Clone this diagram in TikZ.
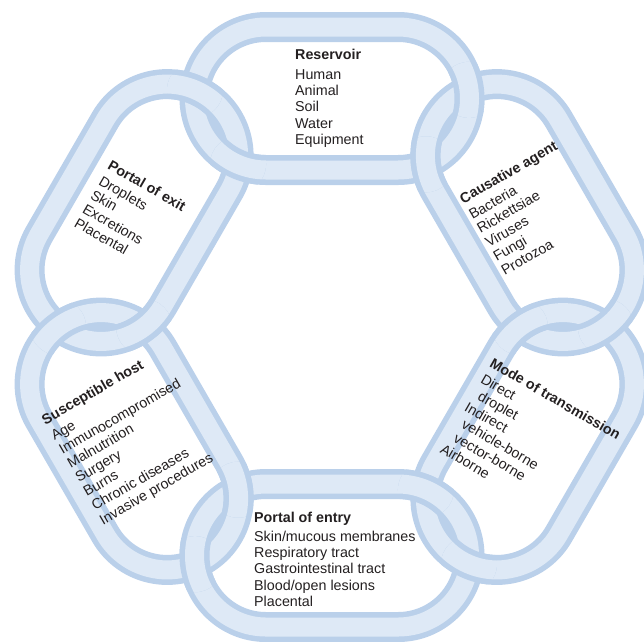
\documentclass[tikz,border=0pt]{standalone}
\usepackage{fontspec}
\setmainfont{Liberation Sans}
\usetikzlibrary{positioning}

\definecolor{linkdark}{RGB}{186,208,234}
\definecolor{linklight}{RGB}{222,233,246}
\definecolor{inktext}{RGB}{35,31,32}

\tikzset{
  chain link/.pic={
    \foreach \w/\c in {30/linkdark,19/linklight}
      \draw[line width=\w pt, draw=\c] (-66,-71.5) -- (66,-71.5)
        arc[start angle=-90,end angle=90,radius=71.5] -- (-66,71.5)
        arc[start angle=90,end angle=270,radius=71.5] -- cycle;
  }
}

\begin{document}
\begin{tikzpicture}[x=1pt,y=-1pt,
    chaintext/.style={inner sep=0pt,anchor=north west,align=left,text=inktext,
      font=\fontsize{14.3}{16.2}\selectfont}]

  \useasboundingbox (0,0) rectangle (644,641);
  \clip (0,0) rectangle (644,641);

  % six links, clockwise from the top
  \foreach \x/\y/\r in {332/98.5/0, 529.9/212.75/-60, 529.9/441.25/60,
                        332/555.5/0, 134.1/441.25/-60, 134.1/212.75/60}
    \pic[rotate=\r] at (\x,\y) {chain link};

  % every link lies over its neighbour at one crossing
  \foreach \x/\y/\r/\cx/\cy in {332/98.5/0/468.95/89.85, 529.9/212.75/-60/425.95/164.3,
      529.9/212.75/-60/605.9/327, 529.9/441.25/60/519.9/327,
      529.9/441.25/60/468.95/564.15, 332/555.5/0/425.95/489.7,
      332/555.5/0/195.05/564.15, 134.1/441.25/-60/238.05/489.7,
      134.1/441.25/-60/58.1/327, 134.1/212.75/60/144.1/327,
      134.1/212.75/60/195.05/89.85, 332/98.5/0/238.05/164.3}
  {
    \begin{scope}
      \clip (\cx,\cy) circle[radius=28];
      \pic[rotate=\r] at (\x,\y) {chain link};
    \end{scope}
  }

  \node[chaintext] (reservoir) at (295,49.3)
    {\textbf{Reservoir}\\[3.5pt] Human\\ Animal\\ Soil\\ Water\\ Equipment};
  \node[chaintext,rotate=30] (agent) at (458,195)
    {\textbf{Causative agent}\\[2pt] Bacteria\\ Rickettsiae\\ Viruses\\ Fungi\\ Protozoa};
  \node[chaintext,rotate=-30] (transmission) at (494,357)
    {\textbf{Mode of transmission}\\[2pt] Direct\\ \hspace*{6pt}droplet\\ Indirect\\
     \hspace*{6pt}vehicle-borne\\ \hspace*{6pt}vector-borne\\ Airborne};
  \node[chaintext] (entry) at (254,511.7)
    {\textbf{Portal of entry}\\[3pt] Skin/mucous membranes\\ Respiratory tract\\
     Gastrointestinal tract\\ Blood/open lesions\\ Placental};
  \node[chaintext,rotate=30] (host) at (40,416)
    {\textbf{Susceptible host}\\[2pt] Age\\ Immunocompromised\\ Malnutrition\\ Surgery\\
     Burns\\ Chronic diseases\\ Invasive procedures};
  \node[chaintext,rotate=-30] (exit) at (112,159)
    {\textbf{Portal of exit}\\[2pt] Droplets\\ Skin\\ Excretions\\ Placental};

\end{tikzpicture}
\end{document}
